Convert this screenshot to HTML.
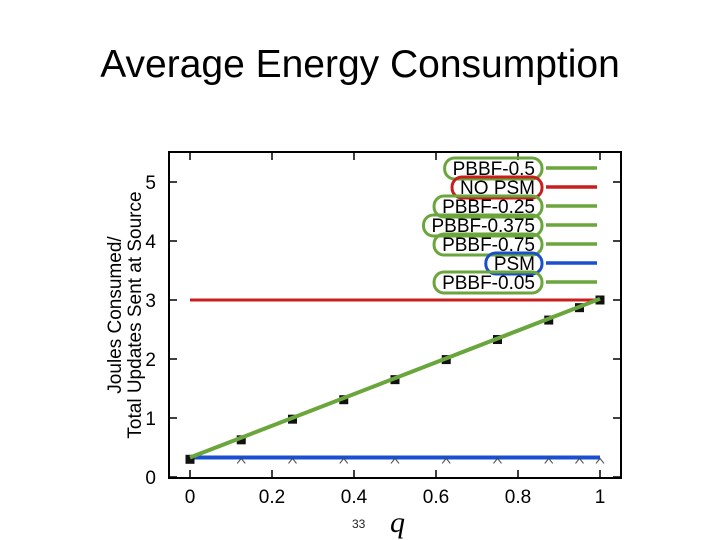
<!DOCTYPE html>
<html><head><meta charset="utf-8"><style>
body{margin:0;width:720px;height:540px;background:#fff;overflow:hidden;font-family:"Liberation Sans",sans-serif}
#title{position:absolute;left:0;width:720px;top:43px;text-align:center;font-family:"Liberation Sans",sans-serif;font-size:39px;color:#000}
svg{position:absolute;left:0;top:0}
</style></head><body>
<div id="title">Average Energy Consumption</div>
<svg id="chart" width="720" height="540"></svg>
<script>
const qValues=[0,0.125,0.25,0.375,0.5,0.625,0.75,0.875,0.95,1];
const pbbfValues=[0.3,0.63,0.98,1.31,1.65,1.99,2.33,2.66,2.87,3.0];
const noPsmValues=[3.0,3.0,3.0,3.0,3.0,3.0,3.0,3.0,3.0,3.0];
const psmValues=[0.28,0.28,0.28,0.28,0.28,0.28,0.28,0.28,0.28,0.28];
const psmLine=[0.33,0.33];
const pbbfLine=[0.33,3.02];
const xTicks=[0,0.2,0.4,0.6,0.8,1];
const xTickLabels=["0","0.2","0.4","0.6","0.8","1"];
const yTicks=[0,1,2,3,4,5];
const legendLabels=["PBBF-0.5","NO PSM","PBBF-0.25","PBBF-0.375","PBBF-0.75","PSM","PBBF-0.05"];
const legendColors=["#6aa63c","#c81e1e","#6aa63c","#6aa63c","#6aa63c","#1a4fc8","#6aa63c"];
const legendLine=["#6aa63c","#c81e1e","#6aa63c","#6aa63c","#6aa63c","#1a50d0","#6aa63c"];

const svg=document.getElementById('chart');
const NS='http://www.w3.org/2000/svg';
const X=v=>190+v*410, Y=v=>477-v*59;
function el(t,a,p){const e=document.createElementNS(NS,t);for(const k in a)e.setAttribute(k,a[k]);(p||svg).appendChild(e);return e;}

const frame=el('rect',{x:169,y:152,width:452,height:326,fill:'none',stroke:'#000','stroke-width':2});



xTicks.forEach((t,i)=>{
  el('line',{x1:X(t),x2:X(t),y1:478,y2:470,stroke:'#000','stroke-width':1.5});
  el('line',{x1:X(t),x2:X(t),y1:152,y2:160,stroke:'#000','stroke-width':1.5});
  const tx=el('text',{x:X(t),y:503,'text-anchor':'middle','font-size':19,fill:'#000'});
  tx.textContent=xTickLabels[i];
  
  
});
yTicks.forEach(t=>{
  el('line',{x1:169,x2:177,y1:Y(t),y2:Y(t),stroke:'#000','stroke-width':1.5});
  el('line',{x1:621,x2:613,y1:Y(t),y2:Y(t),stroke:'#000','stroke-width':1.5});
  const tx=el('text',{x:156,y:Y(t)+7,'text-anchor':'end','font-size':19,fill:'#000'});
  tx.textContent=String(t);
  
  
});

const yt=el('text',{transform:'translate(123,315) rotate(-90)','text-anchor':'middle','font-size':19,fill:'#000'});


el('tspan',{x:0,dy:-2},yt).textContent='Joules Consumed/';
el('tspan',{x:0,dy:20},yt).textContent='Total Updates Sent at Source';

const xt=el('text',{x:390,y:532,'font-size':30,'font-style':'italic','font-family':'Liberation Serif,serif',fill:'#000'});
xt.textContent='q';


const pn=el('text',{x:352,y:528,'font-size':12,fill:'#222'});
pn.textContent='33';



const nl=el('line',{x1:X(qValues[0]),x2:X(qValues[9]),y1:Y(noPsmValues[0]),y2:Y(noPsmValues[9]),stroke:'#c81e1e','stroke-width':3});


const pl=el('line',{x1:X(0),x2:X(1),y1:Y(psmLine[0]),y2:Y(psmLine[1]),stroke:'#1a50d0','stroke-width':4});


qValues.forEach((q,i)=>{
  const m=el('path',{d:`M${X(q)-4},${Y(psmValues[i])+3}L${X(q)},${Y(psmValues[i])-2}L${X(q)+4},${Y(psmValues[i])+3}`,fill:'none',stroke:'#444','stroke-width':1});
  
  
  const s=el('rect',{x:X(q)-4.5,y:Y(pbbfValues[i])-4.5,width:9,height:9,fill:'#111'});
  
  
});
const gl=el('line',{x1:X(0),x2:X(1),y1:Y(pbbfLine[0]),y2:Y(pbbfLine[1]),stroke:'#6aa63c','stroke-width':4});



legendLabels.forEach((lab,i)=>{
  const y=168+i*19;
  const g=el('g',{});
  
  
  const t=el('text',{x:535,y:y+7,'text-anchor':'end','font-size':19,fill:'#000'},g);
  t.textContent=lab;
  const w=t.getComputedTextLength?t.getComputedTextLength():80;
  el('rect',{x:535-w-8,y:y-10,width:w+15,height:21,rx:10,fill:'none',stroke:legendColors[i],'stroke-width':3},g);
  el('line',{x1:546,x2:597,y1:y,y2:y,stroke:legendLine[i],'stroke-width':3.5},g);
});
</script>
</body></html>
